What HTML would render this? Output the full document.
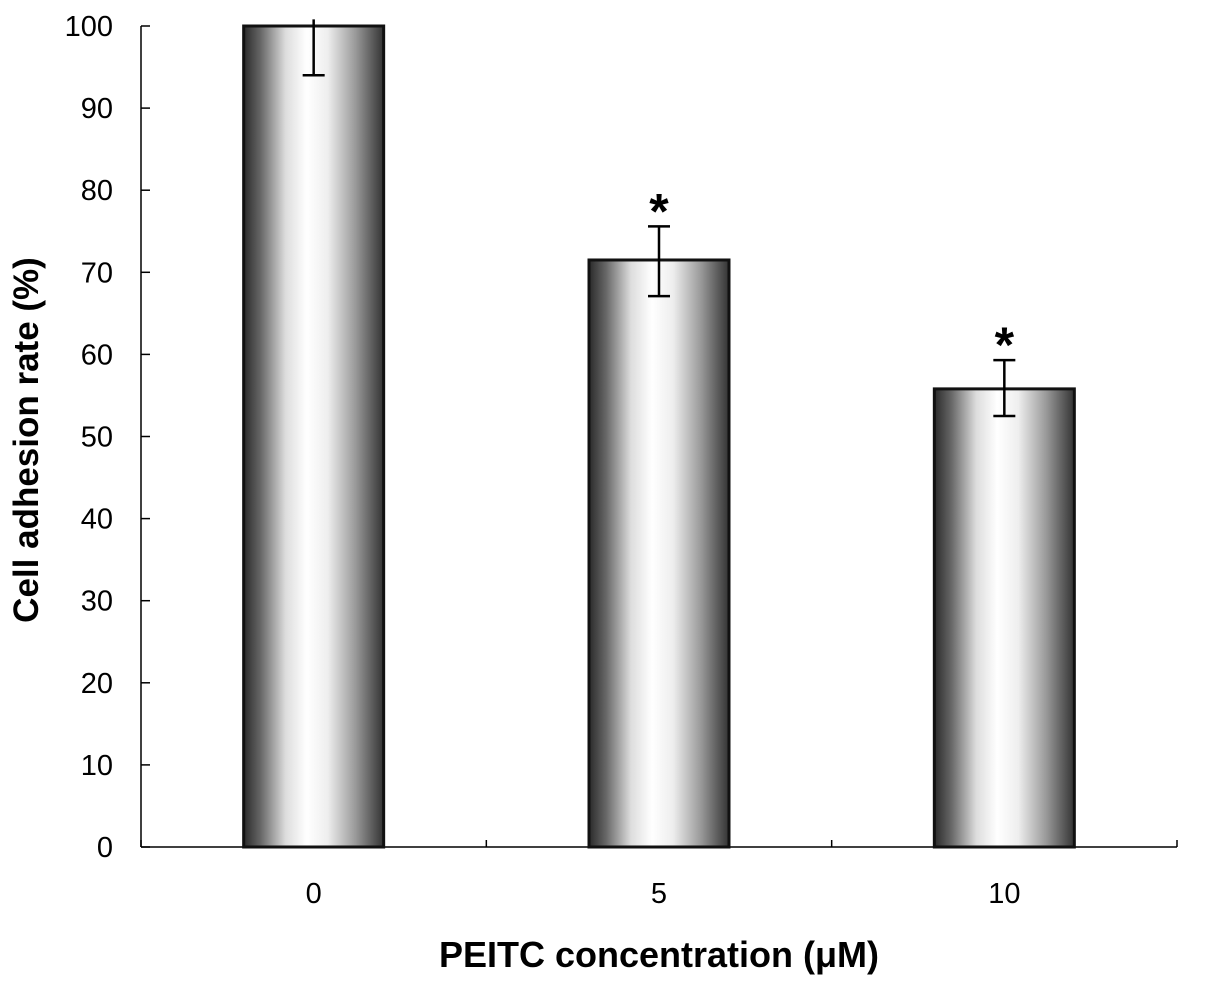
<!DOCTYPE html>
<html><head><meta charset="utf-8"><style>
body{margin:0;background:#fff}
text{font-family:"Liberation Sans",Arial,sans-serif}
</style></head><body>
<svg id="chart" width="1205" height="985" viewBox="0 0 1205 985" xmlns="http://www.w3.org/2000/svg">
<defs>
<linearGradient id="g" x1="0" x2="1" y1="0" y2="0">
<stop offset="0" stop-color="#2a2a2a"/>
<stop offset="0.12" stop-color="#666"/>
<stop offset="0.3" stop-color="#ddd"/>
<stop offset="0.45" stop-color="#fff"/>
<stop offset="0.6" stop-color="#eee"/>
<stop offset="0.8" stop-color="#999"/>
<stop offset="1" stop-color="#333"/>
</linearGradient>
</defs>
<g id="plot"></g>
</svg>
<script>
const categories=["0","5","10"];
const values=[100,71.5,55.8];
const errUpper=[100.8,75.6,59.3];
const errLower=[94,67.1,52.5];
const sig=[false,true,true];
const yTicks=[0,10,20,30,40,50,60,70,80,90,100];
const NS="http://www.w3.org/2000/svg";
const g=document.getElementById('plot');
const x0=141,x1=1177,y0=847,yTop=26;
const y=v=>y0-(y0-yTop)*v/100;
const band=(x1-x0)/categories.length;
const cx=i=>x0+band*(i+0.5);
const bw=140;
function el(t,a,txt){const e=document.createElementNS(NS,t);for(const k in a)e.setAttribute(k,a[k]);if(txt!==undefined)e.textContent=txt;g.appendChild(e);return e;}
let e=el('line',{x1:x0,y1:y(0),x2:x0,y2:y(100),stroke:'#000','stroke-width':1.5});

e=el('line',{x1:x0,y1:y0,x2:x1,y2:y0,stroke:'#000','stroke-width':1.5});

yTicks.forEach(t=>{
 let l=el('line',{x1:x0,y1:y(t),x2:x0+9,y2:y(t),stroke:'#000','stroke-width':1.5});
 
 let tx=el('text',{x:113,y:y(t)+10,'text-anchor':'end','font-size':29},t);
 
});
for(let i=0;i<=categories.length;i++){
 let l=el('line',{x1:x0+band*i,y1:y0,x2:x0+band*i,y2:y0-7,stroke:'#000','stroke-width':1.5});
 
}
categories.forEach((c,i)=>{
 let r=el('rect',{x:cx(i)-bw/2,y:y(values[i]),width:bw,height:y0-y(values[i]),fill:'url(#g)',stroke:'#111','stroke-width':3});
 
 let eb=el('path',{d:`M${cx(i)},${y(errUpper[i])}V${y(errLower[i])}M${cx(i)-11},${y(errLower[i])}H${cx(i)+11}`+(errUpper[i]<=100?`M${cx(i)-11},${y(errUpper[i])}H${cx(i)+11}`:''),stroke:'#000','stroke-width':2.5,fill:'none'});
 
 let tl=el('text',{x:cx(i),y:903,'text-anchor':'middle','font-size':29},c);
 
 if(sig[i]){let s=el('text',{x:cx(i),y:y(errUpper[i])+2,'text-anchor':'middle','font-size':50,'font-weight':'bold'},'*');
 }
});
e=el('text',{x:659,y:967,'text-anchor':'middle','font-size':36,'font-weight':'bold'},'PEITC concentration (μM)');

e=el('text',{x:0,y:0,'text-anchor':'middle','font-size':35,'font-weight':'bold',transform:'translate(38,440) rotate(-90)'},'Cell adhesion rate (%)');

</script>
</body></html>
